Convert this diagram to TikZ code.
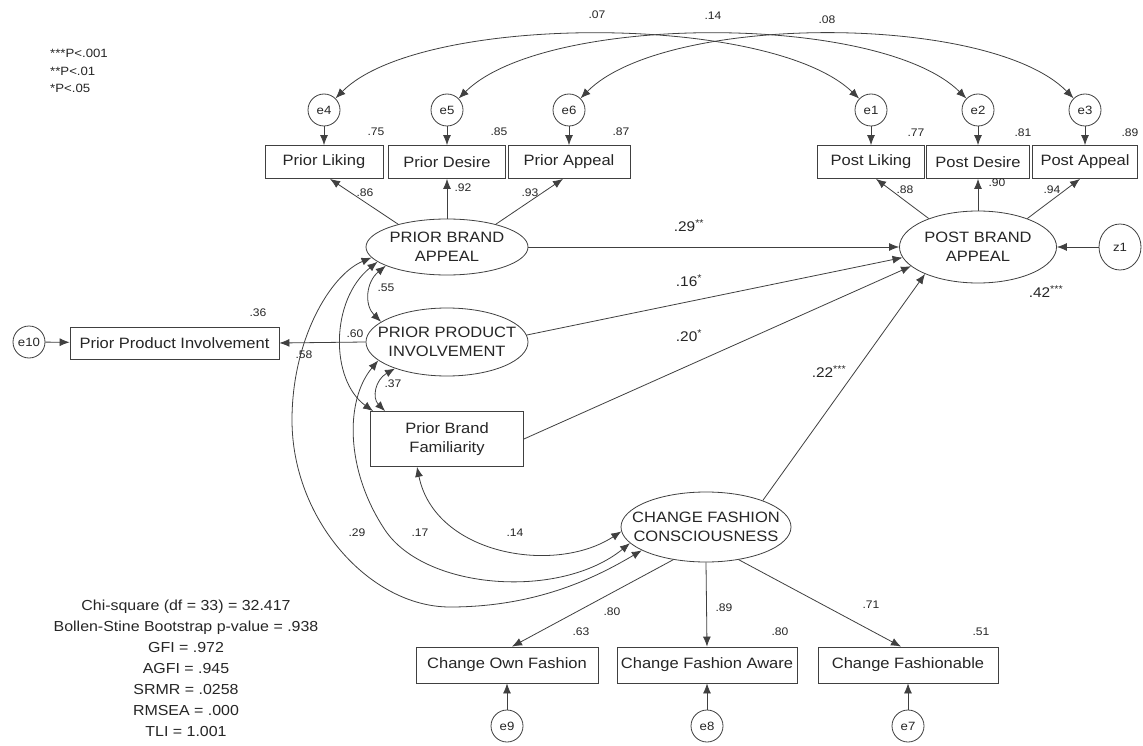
\documentclass[tikz,border=0pt]{standalone}
\usepackage{fontspec}
\setmainfont{Liberation Sans}[FakeStretch=1.1]
\usetikzlibrary{shapes.geometric,arrows.meta}

\newcommand\NodeFont{\fontsize{15}{18.5}\selectfont}
\newcommand\CoefFont{\fontsize{11}{13}\selectfont}
\newcommand\ErrFont{\fontsize{12}{14}\selectfont}
\newcommand\PathFont{\fontsize{14}{16}\selectfont}
\newcommand\StatFont{\fontsize{14.5}{21}\selectfont}
\newcommand\KeyFont{\fontsize{12}{17.5}\selectfont}
\newcommand\sig[1]{\textsuperscript{#1}}

\tikzset{
  line/.style={draw=black!75, line width=0.8pt},
  tip/.tip={Latex[length=10pt,width=8pt]},
  arr/.style={line, -tip},
  cov/.style={line, tip-tip},
  obs/.style={rectangle, draw=black!75, line width=0.8pt, inner sep=0pt,
              font=\NodeFont, text=black!85, align=center},
  latent/.style={ellipse, draw=black!75, line width=0.8pt, inner sep=0pt},
  lattxt/.style={font=\NodeFont, text=black!85, align=center, inner sep=0pt},
  err/.style={ellipse, draw=black!75, line width=0.8pt, inner sep=0pt,
              minimum width=32pt, minimum height=32pt, font=\ErrFont, text=black!85},
  coef/.style={font=\CoefFont, text=black!85, inner sep=0pt},
  pcoef/.style={font=\PathFont, text=black!85, inner sep=0pt},
}

\begin{document}
\begin{tikzpicture}[x=1pt, y={(0pt,-1pt)}]
\useasboundingbox[fill=white] (0,0) rectangle (1143,746);

% significance key
\node[font=\KeyFont, text=black!85, align=left, anchor=north west, inner sep=0pt]
  (key) at (50,49) {***P<.001\\**P<.01\\*P<.05};

% error terms, upper row
\node[err] (e4) at (324,110) {e4};
\node[err] (e5) at (447,110) {e5};
\node[err] (e6) at (569,110) {e6};
\node[err] (e1) at (871,110) {e1};
\node[err] (e2) at (978,110) {e2};
\node[err] (e3) at (1085,110) {e3};

% indicators, upper row
\node[obs, minimum width=118pt, minimum height=33pt] (pl) at (324,162) {Prior Liking};
\node[obs, minimum width=117pt, minimum height=33pt] (pd) at (447,162) {Prior Desire};
\node[obs, minimum width=122pt, minimum height=33pt] (pa) at (569,162) {Prior Appeal};
\node[obs, minimum width=107pt, minimum height=33pt] (ql) at (871,162) {Post Liking};
\node[obs, minimum width=103pt, minimum height=33pt] (qd) at (978,162) {Post Desire};
\node[obs, minimum width=105pt, minimum height=33pt] (qa) at (1085,162) {Post Appeal};

% latent variables and single indicators
\node[latent, minimum width=162pt, minimum height=56pt,
      label={[lattxt]center:PRIOR BRAND\\APPEAL}] (pba) at (447,247) {};
\node[latent, minimum width=162pt, minimum height=68pt,
      label={[lattxt]center:PRIOR PRODUCT\\INVOLVEMENT}] (ppi) at (447,342) {};
\node[obs, minimum width=153pt, minimum height=55pt] (pbf) at (447,439) {Prior Brand\\Familiarity};
\node[latent, minimum width=157pt, minimum height=72pt,
      label={[lattxt]center:POST BRAND\\APPEAL}] (post) at (978,247) {};
\node[err, minimum width=42pt, minimum height=46pt] (z1) at (1120,247) {z1};
\node[latent, minimum width=170pt, minimum height=70pt,
      label={[lattxt]center:CHANGE FASHION\\CONSCIOUSNESS}] (cfc) at (706,527) {};
\node[obs, minimum width=209pt, minimum height=32pt] (ppib) at (174.5,343) {Prior Product Involvement};
\node[err] (e10) at (29,342) {e10};

% indicators, lower row
\node[obs, minimum width=182pt, minimum height=36pt] (own) at (507,665) {Change Own Fashion};
\node[obs, minimum width=180pt, minimum height=36pt] (aware) at (707,665) {Change Fashion Aware};
\node[obs, minimum width=180pt, minimum height=36pt] (fash) at (908,665) {Change Fashionable};
\node[err] (e9) at (507,726) {e9};
\node[err] (e8) at (707,726) {e8};
\node[err] (e7) at (908,726) {e7};

% fit statistics
\node[font=\StatFont, text=black!85, align=center, anchor=north, inner sep=0pt]
  (fit) at (186,600) {Chi-square (df = 33) = 32.417\\
  Bollen-Stine Bootstrap p-value = .938\\GFI = .972\\AGFI = .945\\
  SRMR = .0258\\RMSEA = .000\\TLI = 1.001};

% residual covariances among error terms
\draw[cov] (e4) .. controls (420,13) and (770,13) .. (e1);
\draw[cov] (e5) .. controls (545,13) and (880,13) .. (e2);
\draw[cov] (e6) .. controls (665,13) and (990,13) .. (e3);

% error terms to indicators
\foreach \e/\b in {e4/pl, e5/pd, e6/pa, e1/ql, e2/qd, e3/qa, e10/ppib, e9/own, e8/aware, e7/fash}
  \draw[arr] (\e) -- (\b);

% loadings
\draw[arr] (pba.155) -- ([xshift=6pt]pl.south);
\draw[arr] (pba.north) -- (pd.south);
\draw[arr] (pba.25) -- ([xshift=-6pt]pa.south);
\draw[arr] (post.150) -- ([xshift=5pt]ql.south);
\draw[arr] (post.north) -- (qd.south);
\draw[arr] (post.30) -- ([xshift=-5pt]qa.south);
\draw[arr] (ppi.west) -- (ppib.east);
\draw[arr] (cfc.225) -- ([xshift=5pt]own.north);
\draw[arr] (cfc.south) -- (aware.north);
\draw[arr] (cfc.315) -- ([xshift=-7pt]fash.north);

% structural paths
\draw[arr] (pba.east) -- (post.west);
\draw[arr] (ppi.5) -- (post.188);
\draw[arr] (pbf.east) -- (post.196);
\draw[arr] (cfc.25) -- (post.207);
\draw[arr] (z1) -- (post.east);

% covariances among exogenous variables
\draw[cov] (pba.197) .. controls (366,282) and (364,305) .. (ppi.163);
\draw[cov] (pba.192) .. controls (330,300) and (330,380) .. ([xshift=3pt]pbf.north west);
\draw[cov] (ppi.207) .. controls (375,380) and (372,398) .. ([xshift=15pt]pbf.north west);
\draw[cov] ([xshift=-30pt]pbf.south) .. controls (435,555) and (555,575) .. (cfc.183);
\draw[cov] (ppi.195) .. controls (345,400) and (345,470) .. (385,530)
           .. controls (425,590) and (560,600) .. (cfc.192);
\draw[cov] (pba.188) .. controls (330,275) and (292,340) .. (292,420)
           .. controls (292,520) and (370,607) .. (450,607)
           .. controls (540,607) and (600,575) .. (cfc.200);

% coefficient labels
\node[coef] (c07) at (597,15) {.07};
\node[coef] (c14t) at (713,16) {.14};
\node[coef] (c08) at (827,20) {.08};
\node[coef] (r75) at (376,132) {.75};
\node[coef] (r85) at (499,132) {.85};
\node[coef] (r87) at (621,132) {.87};
\node[coef] (r77) at (916,133) {.77};
\node[coef] (r81) at (1023,133) {.81};
\node[coef] (r89) at (1130,133) {.89};
\node[coef] (l86) at (365,193) {.86};
\node[coef] (l92) at (463,188) {.92};
\node[coef] (l93) at (530,193) {.93};
\node[coef] (l88) at (905,190) {.88};
\node[coef] (l90) at (997,183) {.90};
\node[coef] (l94) at (1052,190) {.94};
\node[coef] (r36) at (258,313) {.36};
\node[coef] (l58) at (304,355) {.58};
\node[coef] (c60) at (355,334) {.60};
\node[coef] (c55) at (386,288) {.55};
\node[coef] (c37) at (393,384) {.37};
\node[coef] (c29) at (357,533) {.29};
\node[coef] (c17) at (420,533) {.17};
\node[coef] (c14) at (515,533) {.14};
\node[coef] (l80) at (612,612) {.80};
\node[coef] (l89) at (724,608) {.89};
\node[coef] (l71) at (871,605) {.71};
\node[coef] (r63) at (581,632) {.63};
\node[coef] (r80) at (780,632) {.80};
\node[coef] (r51) at (981,632) {.51};

% structural coefficients
\node[pcoef] (b29) at (689,226) {.29\sig{**}};
\node[pcoef] (b16) at (689,281) {.16\sig{*}};
\node[pcoef] (b20) at (689,336) {.20\sig{*}};
\node[pcoef] (b22) at (829,372) {.22\sig{***}};
\node[pcoef] (r42) at (1046,292) {.42\sig{***}};
\end{tikzpicture}
\end{document}
